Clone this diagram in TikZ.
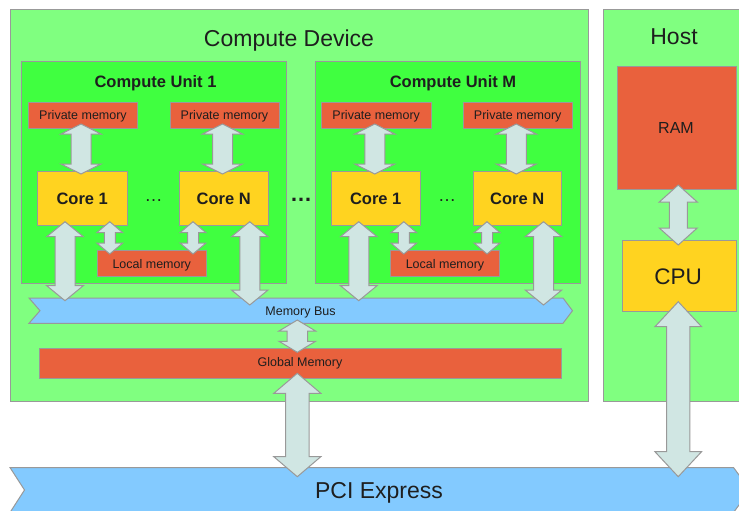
\documentclass[tikz,border=0pt]{standalone}
\usepackage{fontspec}
\setmainfont{Liberation Sans}
\usetikzlibrary{calc,fit}
\definecolor{devgreen}{HTML}{80FF80}
\definecolor{cugreen}{HTML}{40FF40}
\definecolor{memred}{HTML}{E9613D}
\definecolor{coreyel}{HTML}{FFD320}
\definecolor{busblue}{HTML}{83CAFF}
\definecolor{arrfill}{HTML}{D0E6E3}
\definecolor{edgegray}{HTML}{999999}
\definecolor{txt}{HTML}{1E1E1E}
\tikzset{
  boxbase/.style={draw=edgegray, line width=1pt, inner sep=0pt, outer sep=0pt},
  devbox/.style={boxbase, fill=devgreen},
  cubox/.style={boxbase, fill=cugreen},
  membox/.style={boxbase, fill=memred},
  corebox/.style={boxbase, fill=coreyel},
  busshape/.style={draw=edgegray, line width=1pt, fill=busblue},
  blockarrow/.style={draw=edgegray, line width=1pt, fill=arrfill, line join=miter},
  lbl/.style={anchor=base, inner sep=0pt, outer sep=0pt, text=txt},
  bigtxt/.style={lbl, font=\fontsize{23}{23}\selectfont},
  boldtxt/.style={lbl, font=\fontsize{16.5}{16.5}\selectfont\bfseries},
  smalltxt/.style={lbl, font=\fontsize{12.5}{12.5}\selectfont},
  midtxt/.style={lbl, font=\fontsize{16}{16}\selectfont},
  cputxt/.style={lbl, font=\fontsize{22.5}{22.5}\selectfont},
  dotstxt/.style={lbl, font=\fontsize{18}{18}\selectfont},
  bigdots/.style={lbl, font=\fontsize{22}{22}\selectfont\bfseries},
}
% #1 top point (gives x and top y), #2 bottom point (gives bottom y),
% #3 head half width, #4 shaft half width, #5 head length
\newcommand\blkarrow[5]{%
  \path[blockarrow] let \p1=(#1), \p2=(#2) in
    (\x1,\y1) -- ({\x1+#3pt},{\y1-#5pt}) -- ({\x1+#4pt},{\y1-#5pt})
    -- ({\x1+#4pt},{\y2+#5pt}) -- ({\x1+#3pt},{\y2+#5pt}) -- (\x1,\y2)
    -- ({\x1-#3pt},{\y2+#5pt}) -- ({\x1-#4pt},{\y2+#5pt})
    -- ({\x1-#4pt},{\y1-#5pt}) -- ({\x1-#3pt},{\y1-#5pt}) -- cycle;}
\begin{document}
\begin{tikzpicture}[x=1pt,y=-1pt]
\useasboundingbox (0,0) rectangle (739,511);
\clip (0,0) rectangle (739,511);
\fill[white] (0,0) rectangle (739,511);
% containers
\node[devbox, fit={(10,10) (588.5,401.5)}] (dev) {};
\node[devbox, fit={(603,10) (745,401.5)}] (host) {};
\node[cubox, fit={(21,62) (286,283)}] (cu1) {};
\node[cubox, fit={(315.5,62) (580,283)}] (cuM) {};
% private memories
\node[membox, fit={(28.5,102) (137.5,128)}] (pm11) {};
\node[membox, fit={(170,102) (279,128)}] (pm1N) {};
\node[membox, fit={(321.5,102) (431,128)}] (pmM1) {};
\node[membox, fit={(463,102) (572.5,128)}] (pmMN) {};
% cores
\node[corebox, fit={(37.5,171) (127,225)}] (c11) {};
\node[corebox, fit={(179,171) (268.5,225)}] (c1N) {};
\node[corebox, fit={(331.5,171) (420,225)}] (cM1) {};
\node[corebox, fit={(473,171) (561.5,225)}] (cMN) {};
% local memories
\node[membox, fit={(97,250) (206.5,276.5)}] (lm1) {};
\node[membox, fit={(390.5,250) (499.5,276.5)}] (lmM) {};
% memory bus
\path[busshape] (29,298) -- (563,298) -- (572.5,310.7) -- (563,323.3)
  -- (29,323.3) -- (40,310.7) -- cycle;
\coordinate (bustop) at (300,298);
\coordinate (busbot) at (300,323.3);
% global memory
\node[membox, fit={(39.5,348.5) (561.5,378.5)}] (glob) {};
% host
\node[membox, fit={(617.5,66.5) (736,189.5)}] (ram) {};
\node[corebox, fit={(622,240.5) (736.5,311)}] (cpu) {};
% PCI express
\path[busshape] (10,467.5) -- (733.5,467.5) -- (750,490) -- (733.5,512.5)
  -- (10,512.5) -- (24.5,490) -- cycle;
\coordinate (pcitop) at (379,467.5);
% arrows: private memory <-> core
\blkarrow{$(pm11.south)+(-2,-4)$}{$(c11.north)+(0,3)$}{20}{10}{10}
\blkarrow{$(pm1N.south)+(-2,-4)$}{$(c1N.north)+(0,3)$}{20}{10}{10}
\blkarrow{$(pmM1.south)+(-1.5,-4)$}{$(cM1.north)+(0,3)$}{20}{10}{10}
\blkarrow{$(pmMN.south)+(-1.5,-4)$}{$(cMN.north)+(0,3)$}{20}{10}{10}
% arrows: core <-> local memory
\blkarrow{$(c11.south)+(27.5,-3.3)$}{$(lm1.north)+(0,4)$}{13}{5.5}{11}
\blkarrow{$(c1N.south)+(-30.75,-3.3)$}{$(lm1.north)+(0,4)$}{13}{5.5}{11}
\blkarrow{$(cM1.south)+(28,-3.3)$}{$(lmM.north)+(0,4)$}{13}{5.5}{11}
\blkarrow{$(cMN.south)+(-30.25,-3.3)$}{$(lmM.north)+(0,4)$}{13}{5.5}{11}
% arrows: core <-> memory bus
\blkarrow{$(c11.south)+(-17.25,-3.3)$}{$(bustop)+(0,2.7)$}{18.3}{10}{15}
\blkarrow{$(c1N.south)+(26,-3.3)$}{$(bustop)+(0,7)$}{18.3}{10}{15}
\blkarrow{$(cM1.south)+(-17,-3.3)$}{$(bustop)+(0,2.7)$}{18.3}{10}{15}
\blkarrow{$(cMN.south)+(26.25,-3.3)$}{$(bustop)+(0,7)$}{18.3}{10}{15}
% bus <-> global memory
\blkarrow{$(busbot)+(-2.7,-3.3)$}{$(glob.north)+(0,3.8)$}{18.3}{10.3}{11}
% global memory <-> PCI
\blkarrow{$(glob.south)+(-3.2,-5.2)$}{$(pcitop)+(0,9.2)$}{23.5}{11.8}{20}
% RAM <-> CPU
\blkarrow{$(ram.south)+(1.5,-4.5)$}{$(cpu.north)+(0,4.5)$}{19}{9}{17}
% CPU <-> PCI
\blkarrow{$(cpu.south)+(-1,-9.3)$}{$(pcitop)+(0,9.2)$}{23.3}{11.7}{25}
% texts
\node[bigtxt] (tdev) at (289,46.7) {Compute Device};
\node[bigtxt] (thost) at (674,45) {Host};
\node[boldtxt] (tcu1) at (155.5,87.3) {Compute Unit 1};
\node[boldtxt] (tcuM) at (453,87.3) {Compute Unit M};
\node[smalltxt] (tpm11) at ($(pm11.center)+(0,4)$) {Private memory};
\node[smalltxt] (tpm1N) at ($(pm1N.center)+(0,4)$) {Private memory};
\node[smalltxt] (tpmM1) at ($(pmM1.center)+(0,4)$) {Private memory};
\node[smalltxt] (tpmMN) at ($(pmMN.center)+(0,4)$) {Private memory};
\node[boldtxt] (tc11) at ($(c11.center)+(0,6)$) {Core 1};
\node[boldtxt] (tc1N) at ($(c1N.center)+(0,6)$) {Core N};
\node[boldtxt] (tcM1) at ($(cM1.center)+(0,6)$) {Core 1};
\node[boldtxt] (tcMN) at ($(cMN.center)+(0,6)$) {Core N};
\node[smalltxt] (tlm1) at ($(lm1.center)+(0,5)$) {Local memory};
\node[smalltxt] (tlmM) at ($(lmM.center)+(0,5)$) {Local memory};
\node[smalltxt] (tbus) at (300.5,315.7) {Memory Bus};
\node[smalltxt] (tglob) at (300,366.7) {Global Memory};
\node[midtxt] (tram) at (676,133.3) {RAM};
\node[cputxt] (tcpu) at (678,284.3) {CPU};
\node[bigtxt] (tpci) at (379,498.3) {PCI Express};
\node[dotstxt] (d1) at (153.5,201.5) {…};
\node[dotstxt] (dM) at (447,201.5) {…};
\node[bigdots] (dmid) at (301,201.5) {…};
\end{tikzpicture}
\end{document}
